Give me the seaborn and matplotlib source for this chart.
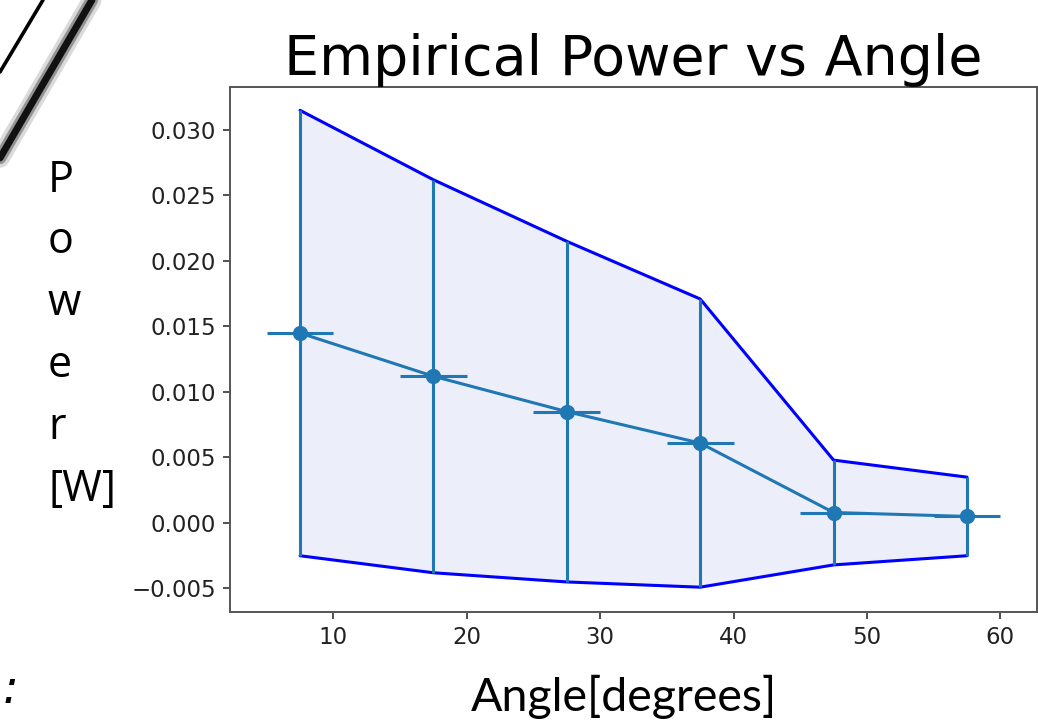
import numpy as np
import pandas as pd
import seaborn as sns
import matplotlib
matplotlib.use("Agg")
import matplotlib.pyplot as plt
from matplotlib.lines import Line2D

# ---- data ----
angles = [7.5, 17.5, 27.5, 37.5, 47.5, 57.5]
power_mean = [0.0145, 0.0112, 0.0085, 0.0061, 0.0008, 0.0005]
power_err = [0.0170, 0.0150, 0.0130, 0.0110, 0.0040, 0.0030]
angle_err = [2.5, 2.5, 2.5, 2.5, 2.5, 2.5]
x_ticks = [10, 20, 30, 40, 50, 60]
y_ticks = [-0.005, 0.000, 0.005, 0.010, 0.015, 0.020, 0.025, 0.030]

title_text = "Empirical Power vs Angle"
xlabel_text = "Angle[degrees]"
ylabel_text = "P\no\nw\ne\nr\n[W]"

sns.set_style("ticks", {"axes.edgecolor": "#555555", "xtick.color": "#333333",
                        "ytick.color": "#333333", "text.color": "black"})
plt.rcParams["font.family"] = ["DejaVu Sans"]

df = pd.DataFrame({"angle": angles, "mean": power_mean, "err": power_err})
df["upper"] = df["mean"] + df["err"]
df["lower"] = df["mean"] - df["err"]

W, H = 1038, 726
fig = plt.figure(figsize=(W / 100, H / 100), dpi=100)
ax = fig.add_axes([230 / W, 1 - 612 / H, (1037 - 230) / W, (612 - 87) / H])

blue = "#1f77b4"
ax.fill_between(df["angle"], df["lower"], df["upper"], color="#eceefa", zorder=1, lw=0)
sns.lineplot(data=df, x="angle", y="upper", color="blue", lw=2.2, ax=ax, zorder=2)
sns.lineplot(data=df, x="angle", y="lower", color="blue", lw=2.2, ax=ax, zorder=2)
ax.errorbar(df["angle"], df["mean"], yerr=df["err"], xerr=angle_err, fmt="none",
            ecolor=blue, elinewidth=2.2, capsize=0, zorder=3)
sns.lineplot(data=df, x="angle", y="mean", color=blue, lw=2.2, marker="o",
             markersize=11, markeredgewidth=0, ax=ax, zorder=4)

ax.set_xlim(2.25, 62.75)
ax.set_ylim(-0.006794, 0.03328)
ax.set_xticks(x_ticks)
ax.set_yticks(y_ticks)
ax.set_yticklabels([f"{v:.3f}".replace("-", "\u2212") for v in y_ticks])
ax.tick_params(labelsize=16.5, length=5, width=1.2, pad=5, labelcolor="#222222")
for s in ax.spines.values():
    s.set_linewidth(1.4)
    s.set_visible(True)
ax.set_xlabel("")
ax.set_ylabel("")
ax.set_title(title_text, fontsize=40, pad=8, color="black")

fig.text(48 / W, 1 - 158 / H, ylabel_text, ha="left", va="top", fontsize=31,
         linespacing=1.52, color="black", family=["Open Sans", "DejaVu Sans"])
fig.text(624 / W, 1 - 711 / H, xlabel_text, ha="center", va="baseline", fontsize=33.5,
         color="black", family=["Lato", "DejaVu Sans"])

# screenshot artefacts at the left edge
fig.add_artist(Line2D([0, 43 / W], [1 - 72 / H, 1.0], color="black", lw=2.6))
fig.add_artist(Line2D([0, 92 / W], [1 - 158 / H, 1.0], color="#999999", lw=14, alpha=0.35))
fig.add_artist(Line2D([0, 92 / W], [1 - 158 / H, 1.0], color="#666666", lw=9, alpha=0.6))
fig.add_artist(Line2D([0, 92 / W], [1 - 158 / H, 1.0], color="#111111", lw=5))
fig.text(3 / W, 1 - 703 / H, ":", fontsize=34, style="italic", ha="left",
         va="baseline", color="black")

fig.savefig("out.png", dpi=100)
